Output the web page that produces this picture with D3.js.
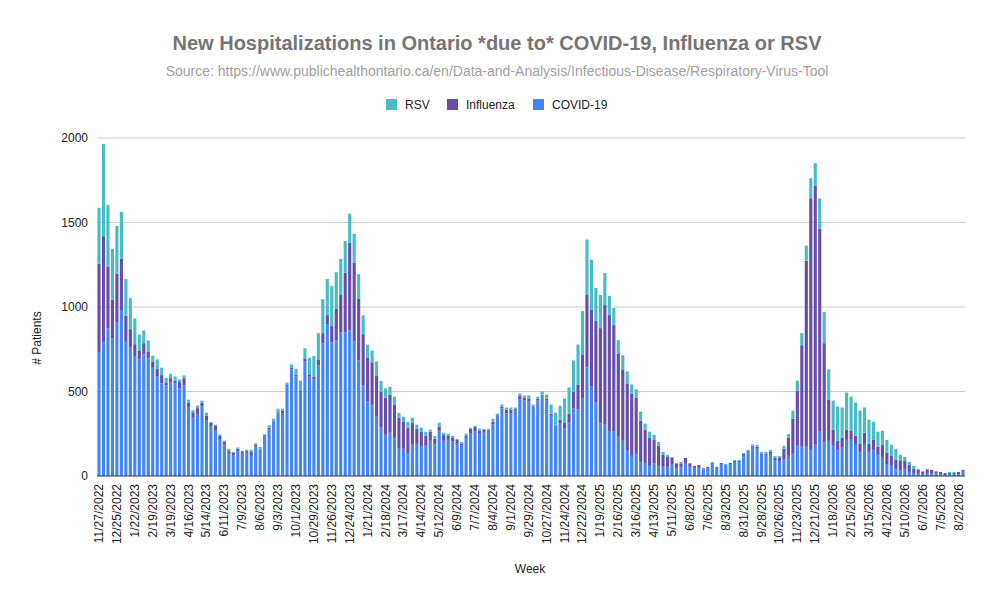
<!DOCTYPE html>
<html>
<head>
<meta charset="utf-8">
<script src="https://cdn.jsdelivr.net/npm/d3@7"></script>
<style>
body { margin: 0; background: #fff; font-family: "Liberation Sans", Arial, sans-serif; }
</style>
</head>
<body>
<svg id="chart" width="995" height="606"></svg>
<script>
var covid = [734,794,875,815,907,982,794,764,710,690,720,696,645,591,548,536,554,548,518,536,
  407,345,363,411,327,292,268,214,185,131,123,147,137,137,119,175,149,236,274,323,
  369,373,532,631,591,508,679,587,571,655,786,899,792,804,851,851,863,798,684,536,
  440,417,351,286,244,256,226,161,161,131,185,190,173,179,208,190,268,208,214,206,
  190,179,226,250,262,250,256,268,304,351,399,369,369,387,452,446,440,411,446,476,
  446,357,298,310,280,315,399,393,458,643,530,434,310,304,262,262,232,208,149,119,
  131,83,77,60,77,60,54,54,71,48,54,77,54,48,48,40,48,77,48,71,
  65,71,83,83,119,143,173,161,125,125,131,95,89,101,119,131,179,173,173,155,
  185,262,202,208,179,155,167,214,214,190,143,190,143,155,125,113,71,65,42,36,
  42,24,18,18,12,18,18,18,12,6,12,12,12,30];
var influenza = [522,625,365,227,289,304,154,105,70,50,66,38,30,46,49,18,25,17,38,43,
  27,32,38,23,30,23,32,24,19,16,16,14,10,10,24,12,6,6,12,4,
  8,12,6,8,8,0,17,14,18,35,59,53,95,184,220,351,518,464,364,303,
  262,256,244,214,220,226,197,184,160,155,130,90,89,59,54,30,24,36,24,20,
  24,11,12,30,30,18,18,6,17,8,12,24,24,12,24,18,18,6,12,6,
  12,12,6,23,35,54,101,149,262,428,452,483,565,708,690,631,494,423,399,369,
  333,244,197,166,137,119,71,59,36,23,17,30,21,12,17,6,6,0,6,6,
  0,6,6,6,12,6,6,12,6,6,12,12,18,60,107,208,327,601,1101,1488,
  1535,1202,584,244,95,53,59,60,54,48,47,66,47,59,48,72,66,54,53,53,
  47,41,24,18,12,18,18,6,12,12,6,6,12,6];
var rsv = [331,545,363,303,284,277,217,183,152,97,75,68,37,53,44,27,26,24,15,16,
  18,12,16,12,18,6,4,8,6,14,4,8,0,8,12,7,18,4,14,12,
  22,14,14,22,36,57,60,99,121,155,201,213,238,218,213,189,171,171,146,111,
  76,69,82,63,54,46,47,28,30,35,30,24,24,24,12,18,23,12,12,12,
  6,12,12,6,6,12,6,6,18,10,12,12,12,6,12,12,18,6,12,18,
  24,54,71,84,143,155,184,236,256,328,298,196,196,190,113,101,78,83,71,54,
  48,54,36,36,30,23,18,12,6,6,12,0,2,0,0,2,0,6,0,0,
  6,0,6,6,6,6,8,12,12,12,12,12,12,18,22,48,59,71,89,119,
  131,179,184,179,172,203,179,220,202,197,197,149,143,107,89,83,77,66,66,36,
  24,18,18,6,6,6,0,6,0,0,6,6,0,0];
var seriesNames = ['COVID-19', 'Influenza', 'RSV'];
var seriesColors = ['#4285f4', '#674ea7', '#46bdc6'];
var yTicks = [0, 500, 1000, 1500, 2000];
var firstWeek = new Date(2022, 10, 27);

var fmt = d3.timeFormat('%-m/%-d/%Y');
var weeks = covid.map(function(d, i) { return d3.timeWeek.offset(firstWeek, i); });
var rows = weeks.map(function(w, i) {
  return { week: fmt(w), 'COVID-19': covid[i], 'Influenza': influenza[i], 'RSV': rsv[i] };
});

var svg = d3.select('#chart');
var plotLeft = 97, plotRight = 965, plotTop = 138, plotBottom = 476;

var x = d3.scaleBand().domain(rows.map(function(d) { return d.week; }))
  .range([plotLeft, plotRight]).paddingInner(0.3).paddingOuter(0.1);
var y = d3.scaleLinear().domain([0, 2000]).range([plotBottom, plotTop]);

svg.append('text').attr('x', 497).attr('y', 50).attr('text-anchor', 'middle')
  .style('font-size', '20px').style('font-weight', 'bold').style('fill', '#757575')
  .text('New Hospitalizations in Ontario *due to* COVID-19, Influenza or RSV');
svg.append('text').attr('x', 497).attr('y', 76).attr('text-anchor', 'middle')
  .style('font-size', '14px').style('fill', '#a0a0a0')
  .text('Source: https://www.publichealthontario.ca/en/Data-and-Analysis/Infectious-Disease/Respiratory-Virus-Tool');

// legend
var legendItems = [['RSV', '#46bdc6', 386], ['Influenza', '#674ea7', 447], ['COVID-19', '#4285f4', 533]];
legendItems.forEach(function(l) {
  svg.append('rect').attr('x', l[2]).attr('y', 99).attr('width', 11).attr('height', 11).attr('fill', l[1]);
  svg.append('text').attr('x', l[2] + 19).attr('y', 109).style('font-size', '12px').style('fill', '#222').text(l[0]);
});

// grid
svg.append('g').selectAll('line').data(yTicks.slice(1)).enter().append('line')
  .attr('x1', plotLeft).attr('x2', plotRight).attr('y1', y).attr('y2', y)
  .attr('stroke', '#ccc').attr('stroke-width', 1);

svg.append('g').selectAll('text').data(yTicks).enter().append('text')
  .attr('x', 88).attr('y', function(d) { return y(d) + 4; }).attr('text-anchor', 'end')
  .style('font-size', '12px').style('fill', '#222').text(function(d) { return d; });

var stack = d3.stack().keys(seriesNames)(rows);
svg.append('g').selectAll('g').data(stack).enter().append('g')
  .attr('fill', function(d, i) { return seriesColors[i]; })
  .selectAll('rect').data(function(d) { return d; }).enter().append('rect')
  .attr('x', function(d) { return x(d.data.week); })
  .attr('width', x.bandwidth())
  .attr('y', function(d) { return y(d[1]); })
  .attr('height', function(d) { return y(d[0]) - y(d[1]); });

svg.append('line').attr('x1', plotLeft).attr('x2', plotRight).attr('y1', plotBottom).attr('y2', plotBottom)
  .attr('stroke', '#333').attr('stroke-width', 1);

// x tick labels every 4 weeks
var tickWeeks = rows.filter(function(d, i) { return i % 4 === 0; }).map(function(d) { return d.week; });
svg.append('g').selectAll('text').data(tickWeeks).enter().append('text')
  .attr('transform', function(d) { return 'translate(' + (x(d) + x.bandwidth() / 2 + 4) + ',484) rotate(-90)'; })
  .attr('text-anchor', 'end').style('font-size', '12px').style('fill', '#222').text(function(d) { return d; });

svg.append('text').attr('x', 530).attr('y', 573).attr('text-anchor', 'middle')
  .style('font-size', '12px').style('fill', '#222').text('Week');
svg.append('text').attr('transform', 'translate(41,338) rotate(-90)').attr('text-anchor', 'middle')
  .style('font-size', '12px').style('fill', '#222').text('# Patients');
</script>
</body>
</html>
